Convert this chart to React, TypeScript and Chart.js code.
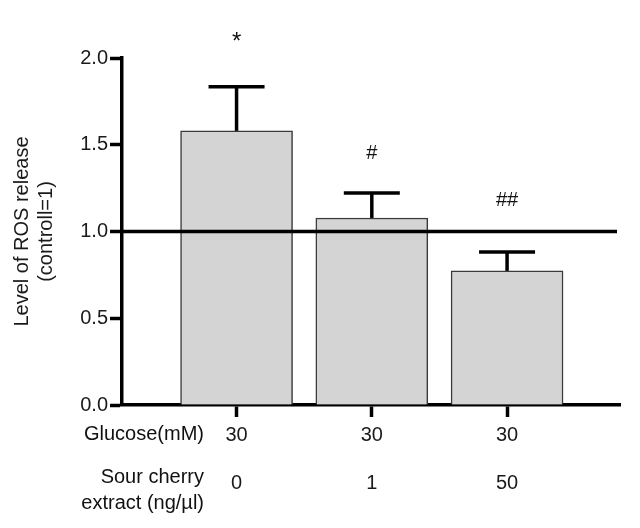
import React, { useEffect, useRef } from 'react';
import { Chart, registerables } from 'chart.js';

Chart.register(...registerables);

// ---- data ----
const groups = [0, 1, 2];
const glucose = ['30', '30', '30'];
const extract = ['0', '1', '50'];
const rosLevel = [1.58, 1.078, 0.773];
const errorUpper = [1.835, 1.222, 0.882];
const significance = ['*', '#', '##'];
const significanceLevel = [2.092, 1.452, 1.176];
const significanceSize = [24, 20, 20];
const referenceLevel = 1.0;
const yTitle = ['Level of ROS release', '(controll=1)'];
const rowHeaders = ['Glucose(mM)', 'Sour cherry', 'extract (ng/\u00b5l)'];

const FONT = '"Liberation Sans", Arial, Helvetica, sans-serif';
const LINE_W = 3.5;

const overlayPlugin = {
  id: 'overlay',
  afterDatasetsDraw(chart: any) {
    const { ctx, chartArea, scales } = chart;
    const y = scales.y;
    ctx.save();
    ctx.strokeStyle = '#000';
    ctx.lineWidth = LINE_W;
    ctx.lineCap = 'butt';

    // error bars
    const meta = chart.getDatasetMeta(0);
    meta.data.forEach((bar: any, i: number) => {
      const cx = bar.x;
      const top = bar.y;
      const e = y.getPixelForValue(errorUpper[i]);
      ctx.beginPath();
      ctx.moveTo(cx, top);
      ctx.lineTo(cx, e);
      ctx.stroke();
      ctx.beginPath();
      ctx.moveTo(cx - 28, e);
      ctx.lineTo(cx + 28, e);
      ctx.stroke();
    });

    // reference line at 1.0
    const yr = y.getPixelForValue(referenceLevel);
    ctx.beginPath();
    ctx.moveTo(chartArea.left, yr);
    ctx.lineTo(chartArea.right - 3, yr);
    ctx.stroke();

    // significance marks
    ctx.fillStyle = '#111';
    ctx.textAlign = 'center';
    ctx.textBaseline = 'middle';
    meta.data.forEach((bar: any, i: number) => {
      ctx.font = `${significanceSize[i]}px ${FONT}`;
      ctx.fillText(significance[i], bar.x, y.getPixelForValue(significanceLevel[i]));
    });

    // row headers below the x axis
    ctx.font = `20px ${FONT}`;
    ctx.textAlign = 'right';
    const rx = chartArea.left + 82;
    ctx.fillText(rowHeaders[0], rx, chartArea.bottom + 29);
    ctx.fillText(rowHeaders[1], rx, chartArea.bottom + 72);
    ctx.fillText(rowHeaders[2], rx, chartArea.bottom + 98);
    ctx.restore();
  },
};

export default function App() {
  const ref = useRef<HTMLCanvasElement | null>(null);

  useEffect(() => {
    if (!ref.current) return;
    const chart = new Chart(ref.current, {
      type: 'bar',
      data: {
        datasets: [
          {
            data: groups.map((g, i) => ({ x: g, y: rosLevel[i] })),
            backgroundColor: '#d4d4d4',
            borderColor: '#3a3a3a',
            borderWidth: 1.5,
            barThickness: 112,
          },
        ],
      },
      options: {
        animation: false,
        responsive: true,
        maintainAspectRatio: false,
        layout: { padding: { top: 58, right: 20, left: 0, bottom: 0 } },
        plugins: { legend: { display: false }, tooltip: { enabled: false } },
        scales: {
          x: {
            type: 'linear',
            offset: false,
            min: -0.847,
            max: 2.835,
            afterBuildTicks: (scale: any) => {
              scale.ticks = groups.map((v) => ({ value: v }));
            },
            afterFit: (scale: any) => {
              scale.height = 123;
            },
            grid: {
              offset: false,
              drawOnChartArea: false,
              tickLength: 12,
              tickWidth: LINE_W,
              tickColor: '#000',
            },
            border: { display: true, color: '#000', width: LINE_W },
            ticks: {
              padding: 6,
              color: '#1a1a1a',
              font: { family: FONT, size: 20, lineHeight: '24px' },
              callback: (value: any) => {
                const i = groups.indexOf(Number(value));
                return [glucose[i], '', extract[i]];
              },
            },
          },
          y: {
            min: 0,
            max: 2,
            afterFit: (scale: any) => {
              scale.width = 122;
            },
            grid: {
              drawOnChartArea: false,
              tickLength: 12,
              tickWidth: LINE_W,
              tickColor: '#000',
            },
            border: { display: true, color: '#000', width: LINE_W },
            ticks: {
              stepSize: 0.5,
              padding: 2,
              color: '#1a1a1a',
              font: { family: FONT, size: 20 },
              callback: (value: any) => Number(value).toFixed(1),
            },
            title: {
              display: true,
              text: yTitle,
              color: '#1a1a1a',
              font: { family: FONT, size: 20, lineHeight: '24px' },
              padding: { top: 10, bottom: 0 },
            },
          },
        },
      },
      plugins: [overlayPlugin],
    } as any);
    return () => chart.destroy();
  }, []);

  return (
    <div style={{ position: 'absolute', left: 0, top: 0, width: 640, height: 528, background: '#fff' }}>
      <canvas ref={ref} />
    </div>
  );
}
